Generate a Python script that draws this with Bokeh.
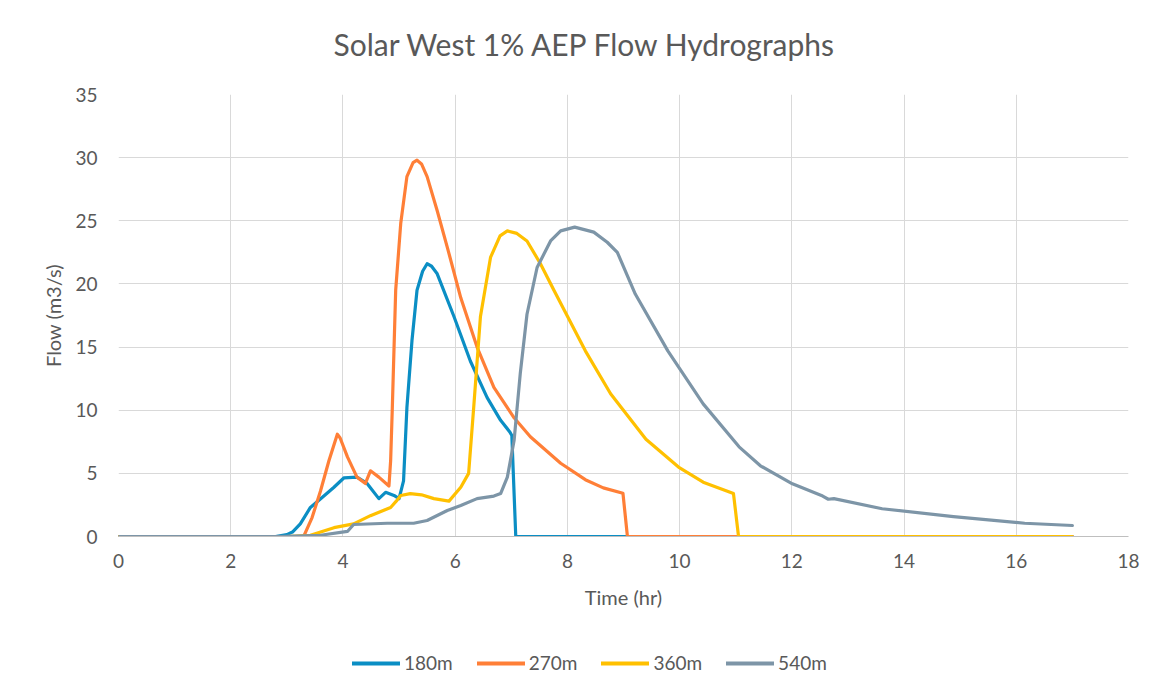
from bokeh.plotting import figure
from bokeh.layouts import column
from bokeh.models import Legend, LegendItem, FixedTicker, Range1d, Label
from bokeh.embed import file_html
from bokeh.resources import INLINE

# ---- data ----
t_180 = [0, 2.8, 3.0, 3.1, 3.24, 3.42, 3.66, 3.84, 4.02, 4.25, 4.43, 4.64, 4.76, 4.91, 5.0,
         5.08, 5.14, 5.23, 5.32, 5.42, 5.50, 5.58, 5.68, 5.98, 6.27, 6.57, 6.81, 6.97, 7.01, 7.08, 17.0]
q_180 = [0, 0, 0.15, 0.35, 1.0, 2.3, 3.2, 3.9, 4.65, 4.7, 4.2, 3.0, 3.5, 3.25, 3.0,
         4.4, 10.2, 15.5, 19.5, 21.0, 21.6, 21.4, 20.8, 17.4, 13.9, 11.0, 9.2, 8.3, 8.0, 0, 0]

t_270 = [0, 3.3, 3.45, 3.6, 3.75, 3.90, 3.95, 4.08, 4.25, 4.40, 4.49, 4.64, 4.82, 4.85, 4.88,
         4.94, 5.03, 5.14, 5.25, 5.32, 5.40, 5.50, 5.68, 5.86, 6.10, 6.39, 6.69, 7.05, 7.34,
         7.88, 8.32, 8.64, 8.99, 9.07, 17.0]
q_270 = [0, 0, 1.5, 3.6, 6.0, 8.1, 7.8, 6.3, 4.7, 4.2, 5.2, 4.7, 4.0, 6.0, 10.2,
         19.5, 24.8, 28.5, 29.6, 29.8, 29.5, 28.5, 25.8, 22.9, 18.9, 15.0, 11.8, 9.4, 7.9,
         5.8, 4.5, 3.85, 3.43, 0, 0]

t_360 = [0, 3.0, 3.42, 3.84, 4.19, 4.49, 4.85, 4.95, 5.03, 5.20, 5.40, 5.62, 5.89, 6.10, 6.24,
         6.33, 6.45, 6.63, 6.80, 6.93, 7.10, 7.28, 7.52, 7.76, 8.32, 8.77, 9.40, 9.98, 10.42,
         10.96, 11.05, 17.0]
q_360 = [0, 0, 0.1, 0.7, 1.0, 1.65, 2.3, 2.8, 3.25, 3.4, 3.3, 3.0, 2.8, 3.9, 5.0,
         10.2, 17.4, 22.1, 23.8, 24.2, 24.0, 23.4, 21.6, 19.5, 14.7, 11.3, 7.7, 5.5, 4.3,
         3.4, 0, 0]

t_540 = [0, 2.8, 3.3, 3.6, 4.08, 4.19, 4.79, 5.26, 5.50, 5.86, 6.10, 6.39, 6.69, 6.81, 6.93,
         7.05, 7.16, 7.28, 7.46, 7.70, 7.88, 8.13, 8.47, 8.71, 8.89, 9.21, 9.79, 10.42, 11.06,
         11.44, 12.01, 12.55, 12.65, 12.75, 13.61, 14.88, 16.15, 17.0]
q_540 = [0, 0, 0.05, 0.1, 0.4, 0.95, 1.05, 1.05, 1.27, 2.06, 2.45, 3.0, 3.2, 3.4, 4.7,
         7.6, 12.9, 17.6, 21.3, 23.4, 24.2, 24.5, 24.1, 23.3, 22.5, 19.2, 14.7, 10.5, 7.1,
         5.6, 4.17, 3.2, 2.95, 3.0, 2.2, 1.58, 1.05, 0.87]

series_names = ["180m", "270m", "360m", "540m"]
series_colors = ["#0B8EC4", "#FF7F37", "#FFC000", "#7D95A7"]
x_ticks = [0, 2, 4, 6, 8, 10, 12, 14, 16, 18]
y_ticks = [0, 5, 10, 15, 20, 25, 30, 35]
chart_title = "Solar West 1% AEP Flow Hydrographs"

FONT = "Lato"
TXT = "#595959"


def strip(height):
    f = figure(width=1161, height=height, output_backend="svg", toolbar_location=None,
               x_range=Range1d(0, 1), y_range=Range1d(0, 1),
               min_border_left=0, min_border_right=0, min_border_top=0, min_border_bottom=0)
    f.axis.visible = False
    f.grid.visible = False
    f.outline_line_color = None
    f.background_fill_color = "white"
    f.border_fill_color = "white"
    return f


# title strip
tf = strip(70)
tf.add_layout(Label(x=467, y=27, x_units="screen", y_units="screen", text=chart_title,
                    text_align="center", text_baseline="middle", text_font=FONT,
                    text_font_size="30px", text_color=TXT))

# main chart
p = figure(width=1161, height=560, output_backend="svg", toolbar_location=None,
           x_range=Range1d(0, 18), y_range=Range1d(0, 35),
           min_border_left=118, min_border_right=33, min_border_top=24, min_border_bottom=94)
p.outline_line_color = None
p.background_fill_color = "white"
p.border_fill_color = "white"

for ax in (p.xaxis[0], p.yaxis[0]):
    ax.major_tick_line_color = None
    ax.minor_tick_line_color = None
    ax.major_tick_out = 0
    ax.major_tick_in = 0
    ax.major_label_text_font = FONT
    ax.major_label_text_font_size = "19px"
    ax.major_label_text_color = TXT
    ax.axis_label_text_font = FONT
    ax.axis_label_text_font_size = "20px"
    ax.axis_label_text_font_style = "normal"
    ax.axis_label_text_color = TXT

p.xaxis.ticker = FixedTicker(ticks=x_ticks)
p.yaxis.ticker = FixedTicker(ticks=y_ticks)
p.xaxis.axis_label = "Time (hr)"
p.yaxis.axis_label = "Flow (m3/s)"
p.xaxis.axis_line_color = "#BFBFBF"
p.xaxis.axis_line_width = 1
p.yaxis.axis_line_color = None
p.xaxis.major_label_standoff = 17
p.yaxis.major_label_standoff = 21
p.xaxis.axis_label_standoff = 14
p.yaxis.axis_label_standoff = 7

p.xgrid.ticker = FixedTicker(ticks=x_ticks)
p.ygrid.ticker = FixedTicker(ticks=y_ticks)
p.xgrid.grid_line_color = "#D9D9D9"
p.ygrid.grid_line_color = "#D9D9D9"
p.xgrid.grid_line_width = 1
p.ygrid.grid_line_width = 1

data = [(t_180, q_180), (t_270, q_270), (t_360, q_360), (t_540, q_540)]
for (t, q), col in zip(data, series_colors):
    p.line(t, q, line_color=col, line_width=3.2, line_join="round", line_cap="round")

# legend strip below the chart (its lines sit outside its visible range)
lg = strip(65)
items = []
for name, col in zip(series_names, series_colors):
    r = lg.line([5, 6], [5, 5], line_color=col, line_width=4, line_cap="round")
    items.append(LegendItem(label=name, renderers=[r]))
legend = Legend(items=items, orientation="horizontal", location=(234, 21),
                glyph_width=48, glyph_height=20, label_standoff=4, spacing=24,
                label_text_font=FONT, label_text_font_size="19px", label_text_color=TXT,
                border_line_color=None, background_fill_alpha=0, padding=4, margin=0)
lg.add_layout(legend, "center")

layout = column(tf, p, lg, spacing=0)
open("out.html", "w").write(file_html(layout, INLINE))
